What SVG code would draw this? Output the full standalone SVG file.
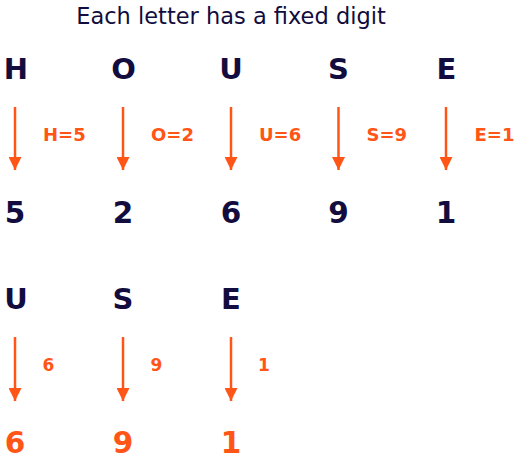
<svg xmlns="http://www.w3.org/2000/svg" width="520" height="459" viewBox="0 0 520 459">
<style>
.title{font-family:"DejaVu Sans",sans-serif;font-size:22.5px;fill:#120d3e;text-anchor:middle}
.let{font-family:"DejaVu Sans",sans-serif;font-weight:bold;font-size:29px;fill:#120d3e;text-anchor:middle}
.dig{font-family:"DejaVu Sans",sans-serif;font-weight:bold;font-size:29.5px;fill:#120d3e;text-anchor:middle}
.dig2{font-family:"DejaVu Sans",sans-serif;font-weight:bold;font-size:29.5px;fill:#ff5516;text-anchor:middle}
.lab{font-family:"DejaVu Sans",sans-serif;font-weight:bold;font-size:18px;fill:#ff5516}
.lab2{font-family:"DejaVu Sans",sans-serif;font-weight:bold;font-size:17px;fill:#ff5516}
.arr{stroke:#ff5516;stroke-width:2.5;fill:none;marker-end:url(#ah)}
</style>
<defs>
<marker id="ah" viewBox="0 0 10 10" refX="10" refY="5" markerUnits="userSpaceOnUse" markerWidth="13" markerHeight="13" orient="auto">
<path d="M0,0 L10,5 L0,10 z" fill="#ff5516"/>
</marker>
</defs>
<text class="title" x="231" y="24">Each letter has a fixed digit</text>
<g id="connectors">
<line class="arr" x1="15" y1="107" x2="15" y2="170"/>
<line class="arr" x1="123" y1="107" x2="123" y2="170"/>
<line class="arr" x1="231" y1="107" x2="231" y2="170"/>
<line class="arr" x1="338.5" y1="107" x2="338.5" y2="170"/>
<line class="arr" x1="446" y1="107" x2="446" y2="170"/>
<line class="arr" x1="15" y1="337" x2="15" y2="401"/>
<line class="arr" x1="123" y1="337" x2="123" y2="401"/>
<line class="arr" x1="231" y1="337" x2="231" y2="401"/>
</g>
<g id="labels">
<text class="lab" x="43" y="140.5">H=5</text>
<text class="lab" x="151" y="140.5">O=2</text>
<text class="lab" x="259" y="140.5">U=6</text>
<text class="lab" x="366.5" y="140.5">S=9</text>
<text class="lab" x="474.5" y="140.5">E=1</text>
<text class="lab2" x="42.5" y="371">6</text>
<text class="lab2" x="150.5" y="371">9</text>
<text class="lab2" x="258" y="371">1</text>
</g>
<g id="node-H"><text class="let" x="16" y="79">H</text></g>
<g id="node-O"><text class="let" x="123.5" y="79">O</text></g>
<g id="node-U"><text class="let" x="231" y="79">U</text></g>
<g id="node-S"><text class="let" x="338.5" y="79">S</text></g>
<g id="node-E"><text class="let" x="446.5" y="79">E</text></g>
<g id="node-5"><text class="dig" x="15" y="223">5</text></g>
<g id="node-2"><text class="dig" x="123" y="223">2</text></g>
<g id="node-6"><text class="dig" x="231" y="223">6</text></g>
<g id="node-9"><text class="dig" x="338.5" y="223">9</text></g>
<g id="node-1"><text class="dig" x="446" y="223">1</text></g>
<g id="node-U2"><text class="let" x="16" y="309">U</text></g>
<g id="node-S2"><text class="let" x="123" y="309">S</text></g>
<g id="node-E2"><text class="let" x="231" y="309">E</text></g>
<g id="node-6b"><text class="dig2" x="15" y="453">6</text></g>
<g id="node-9b"><text class="dig2" x="123" y="453">9</text></g>
<g id="node-1b"><text class="dig2" x="231" y="453">1</text></g>
</svg>
